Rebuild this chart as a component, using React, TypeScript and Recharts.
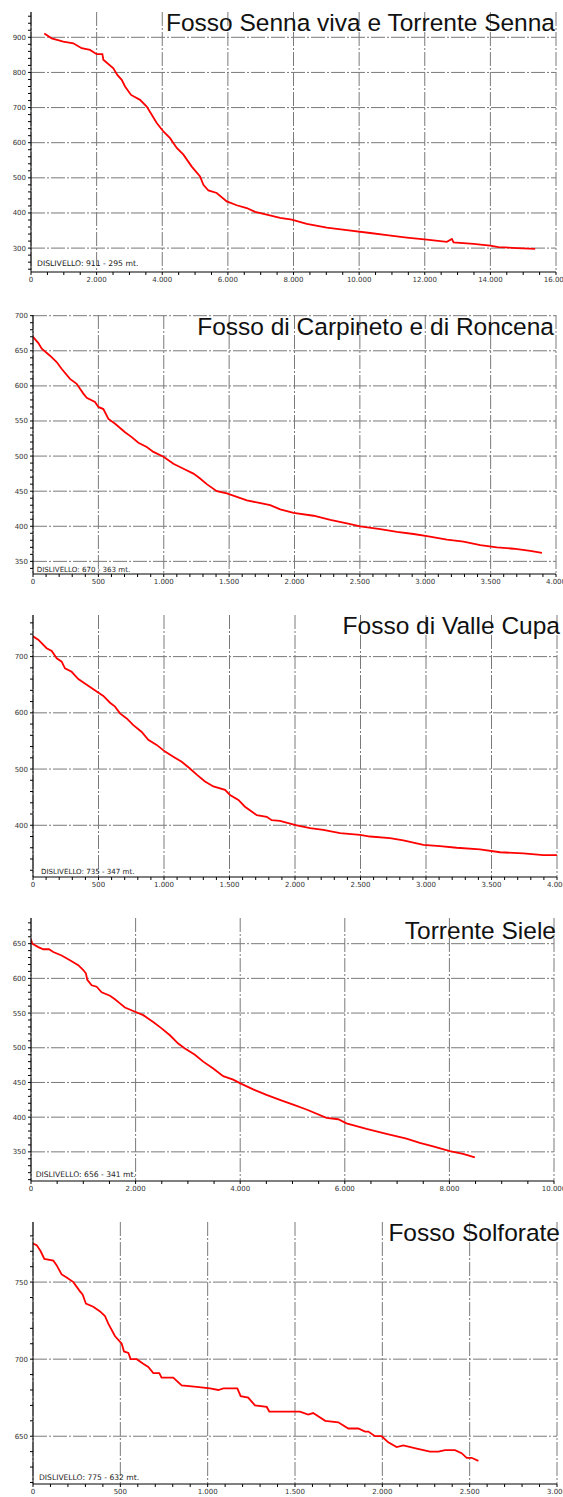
import React from 'react';
import { LineChart, Line, XAxis, YAxis, CartesianGrid } from 'recharts';

// Fosso Senna viva e Torrente Senna
const sennaDist = [405, 630, 985, 1290, 1545, 1800, 2000, 2175, 2205, 2510, 2630, 2765, 2866, 3049, 3323, 3527, 3832, 4035, 4238, 4442, 4645, 4899, 5152, 5254, 5406, 5660, 5966, 6270, 6575, 6829, 7185, 7591, 7948, 8405, 9015, 9625, 10335, 10845, 11455, 12064, 12674, 12827, 12877, 13487, 13994, 14248, 14808, 15366];
const sennaElev = [911, 897, 888, 883, 869, 864, 852, 852, 836, 812, 793, 779, 760, 736, 722, 703, 656, 632, 613, 585, 566, 532, 504, 480, 464, 457, 433, 422, 414, 403, 395, 386, 381, 369, 358, 351, 343, 337, 330, 324, 318, 326, 316, 312, 307, 303, 300, 298];

// Fosso di Carpineto e di Roncena
const carpDist = [0, 41, 67, 130, 181, 220, 283, 334, 385, 411, 474, 500, 538, 577, 628, 704, 755, 806, 870, 921, 998, 1074, 1151, 1227, 1278, 1329, 1406, 1483, 1559, 1636, 1712, 1814, 1891, 1993, 2146, 2274, 2401, 2503, 2656, 2784, 2911, 3013, 3166, 3293, 3421, 3548, 3676, 3803, 3893];
const carpElev = [670, 661, 653, 643, 634, 624, 610, 603, 589, 583, 577, 570, 567, 553, 546, 534, 527, 519, 513, 506, 499, 489, 482, 475, 468, 460, 450, 447, 442, 437, 434, 430, 424, 419, 415, 409, 404, 400, 396, 392, 389, 386, 381, 378, 373, 370, 368, 365, 362];

// Fosso di Valle Cupa
const cupaDist = [0, 40, 104, 143, 181, 219, 244, 295, 346, 410, 486, 537, 588, 626, 664, 715, 766, 830, 880, 944, 1008, 1071, 1135, 1198, 1250, 1313, 1377, 1466, 1504, 1568, 1618, 1708, 1784, 1822, 1885, 2013, 2115, 2216, 2344, 2496, 2573, 2725, 2827, 2980, 3107, 3234, 3412, 3565, 3743, 3896, 4000];
const cupaElev = [736, 730, 715, 710, 697, 691, 679, 673, 660, 650, 638, 630, 618, 611, 599, 590, 578, 566, 552, 543, 531, 522, 513, 501, 490, 478, 469, 463, 454, 445, 433, 418, 415, 409, 408, 400, 395, 392, 386, 383, 380, 377, 373, 365, 363, 360, 357, 352, 350, 347, 347];

// Torrente Siele
const sieleDist = [0, 25, 140, 235, 344, 426, 586, 745, 904, 1000, 1051, 1076, 1160, 1255, 1351, 1510, 1605, 1701, 1796, 1955, 2146, 2337, 2497, 2656, 2815, 2943, 3134, 3293, 3484, 3675, 3866, 3994, 4248, 4503, 4758, 5013, 5268, 5650, 5873, 6032, 6415, 6797, 7179, 7434, 7689, 8007, 8262, 8486];
const sieleElev = [656, 650, 645, 642, 642, 638, 633, 626, 619, 612, 607, 598, 590, 588, 580, 575, 570, 564, 558, 553, 547, 537, 528, 518, 506, 499, 490, 480, 470, 459, 454, 449, 440, 432, 425, 418, 411, 399, 397, 391, 383, 376, 369, 363, 358, 351, 347, 342];

// Fosso Solforate
const solfDist = [0, 21, 44, 65, 116, 135, 164, 193, 231, 269, 284, 303, 345, 384, 412, 431, 469, 508, 521, 546, 559, 594, 631, 660, 689, 723, 736, 803, 851, 937, 1013, 1061, 1090, 1170, 1189, 1232, 1271, 1338, 1353, 1414, 1528, 1576, 1604, 1673, 1748, 1805, 1862, 1901, 1920, 1958, 1996, 2034, 2082, 2120, 2197, 2273, 2321, 2359, 2416, 2454, 2483, 2511, 2550];
const solfElev = [775, 774, 770, 765, 764, 761, 755, 753, 750, 744, 742, 736, 734, 731, 728, 723, 715, 710, 705, 704, 700, 700, 697, 695, 691, 691, 688, 688, 683, 682, 681, 680, 681, 681, 676, 675, 670, 669, 666, 666, 666, 664, 665, 660, 659, 655, 655, 653, 653, 650, 650, 646, 643, 644, 642, 640, 640, 641, 641, 639, 636, 636, 634];

// tick labels
const sennaXMajor = [0, 2000, 4000, 6000, 8000, 10000, 12000, 14000, 16000];
const sennaYMajor = [300, 400, 500, 600, 700, 800, 900];
const carpXMajor = [0, 500, 1000, 1500, 2000, 2500, 3000, 3500, 4000];
const carpYMajor = [350, 400, 450, 500, 550, 600, 650, 700];
const cupaXMajor = [0, 500, 1000, 1500, 2000, 2500, 3000, 3500, 4000];
const cupaYMajor = [400, 500, 600, 700];
const sieleXMajor = [0, 2000, 4000, 6000, 8000, 10000];
const sieleYMajor = [350, 400, 450, 500, 550, 600, 650];
const solfXMajor = [0, 500, 1000, 1500, 2000, 2500, 3000];
const solfYMajor = [650, 700, 750];

const titles = ['Fosso Senna viva e Torrente Senna', 'Fosso di Carpineto e di Roncena', 'Fosso di Valle Cupa', 'Torrente Siele', 'Fosso Solforate'];
const dislivelli = ['DISLIVELLO: 911 -  295 mt.', 'DISLIVELLO: 670 - 363 mt.', 'DISLIVELLO: 735 - 347 mt.', 'DISLIVELLO: 656 - 341 mt.', 'DISLIVELLO: 775 - 632 mt.'];

const range = (a: number, b: number, step: number) => {
  const out: number[] = [];
  for (let v = a; v <= b + 1e-9; v += step) out.push(v);
  return out;
};

const fmtThousands = (v: number) => String(v).replace(/\B(?=(\d{3})+(?!\d))/g, '.');

const TICK_STYLE = { fontSize: 7, fill: '#333', fontFamily: 'DejaVu Sans' };
const GRID = '#7a7a7a';

interface PanelProps {
  top: number;
  height: number;
  dist: number[];
  elev: number[];
  xMax: number;
  xMajor: number[];
  xMinorStep: number;
  yDomain: [number, number];
  yMajor: number[];
  yMinorStep: number;
  yMinorStart: number;
  yWidth: number;
  xHeight: number;
  margin: { top: number; right: number; bottom: number; left: number };
}

function Panel(p: PanelProps) {
  const data = p.dist.map((d, i) => ({ d, e: p.elev[i] }));
  const xTicks = range(0, p.xMax, p.xMinorStep);
  const yTicks = range(p.yMinorStart, p.yDomain[1], p.yMinorStep);
  return (
    <div style={{ position: 'absolute', left: 0, top: p.top }}>
      <LineChart width={563} height={p.height} data={data} margin={p.margin}>
        <CartesianGrid stroke={GRID} strokeDasharray="14 2 2 2" horizontalValues={p.yMajor} verticalValues={p.xMajor} />
        <XAxis
          type="number"
          dataKey="d"
          domain={[0, p.xMax]}
          ticks={xTicks}
          interval={0}
          allowDataOverflow
          height={p.xHeight}
          tickSize={3}
          tickMargin={2}
          stroke="#000"
          tick={TICK_STYLE}
          tickFormatter={(v: number) => (p.xMajor.includes(v) ? fmtThousands(v) : '')}
        />
        <YAxis
          type="number"
          domain={p.yDomain}
          ticks={yTicks}
          interval={0}
          allowDataOverflow
          width={p.yWidth}
          tickSize={3}
          tickMargin={2}
          stroke="#000"
          tick={TICK_STYLE}
          tickFormatter={(v: number) => (p.yMajor.includes(v) ? String(v) : '')}
        />
        <Line dataKey="e" type="linear" stroke="#ff0000" strokeWidth={1.8} dot={false} isAnimationActive={false} />
      </LineChart>
    </div>
  );
}

export default function App() {
  return (
    <div style={{ position: 'absolute', left: 0, top: 0, width: 563, height: 1497, background: '#fff', overflow: 'hidden' }}>
      <Panel top={0} height={300} dist={sennaDist} elev={sennaElev} xMax={16000} xMajor={sennaXMajor} xMinorStep={500}
        yDomain={[232, 972]} yMajor={sennaYMajor} yMinorStep={20} yMinorStart={240} yWidth={31} xHeight={20}
        margin={{ top: 12, right: 7, bottom: 8, left: 0 }} />
      <Panel top={300} height={300} dist={carpDist} elev={carpElev} xMax={4000} xMajor={carpXMajor} xMinorStep={100}
        yDomain={[332, 701]} yMajor={carpYMajor} yMinorStep={10} yMinorStart={340} yWidth={33} xHeight={20}
        margin={{ top: 15, right: 7, bottom: 6, left: 0 }} />
      <Panel top={600} height={300} dist={cupaDist} elev={cupaElev} xMax={4000} xMajor={cupaXMajor} xMinorStep={100}
        yDomain={[308, 774]} yMajor={cupaYMajor} yMinorStep={20} yMinorStart={320} yWidth={33} xHeight={20}
        margin={{ top: 15, right: 6, bottom: 3, left: 0 }} />
      <Panel top={900} height={300} dist={sieleDist} elev={sieleElev} xMax={10000} xMajor={sieleXMajor} xMinorStep={500}
        yDomain={[308, 687]} yMajor={sieleYMajor} yMinorStep={10} yMinorStart={310} yWidth={31} xHeight={19}
        margin={{ top: 18, right: 9, bottom: 0, left: 0 }} />
      <Panel top={1200} height={297} dist={solfDist} elev={solfElev} xMax={3000} xMajor={solfXMajor} xMinorStep={100}
        yDomain={[619, 789]} yMajor={solfYMajor} yMinorStep={10} yMinorStart={620} yWidth={33} xHeight={13}
        margin={{ top: 22, right: 6, bottom: 0, left: 0 }} />
      <svg width={563} height={1497} style={{ position: 'absolute', left: 0, top: 0, pointerEvents: 'none' }}>
        <g fontFamily="'Liberation Sans', Arial, sans-serif" fontSize={24.5} fill="#111" textAnchor="end">
          <text x={555} y={30.7}>{titles[0]}</text>
          <text x={554} y={335}>{titles[1]}</text>
          <text x={560} y={634}>{titles[2]}</text>
          <text x={556} y={939.3}>{titles[3]}</text>
          <text x={560} y={1240.7}>{titles[4]}</text>
        </g>
        <g fontFamily="'DejaVu Sans', sans-serif" fill="#222" style={{ whiteSpace: 'pre' }}>
          <text x={37} y={266} fontSize={7.7}>{dislivelli[0]}</text>
          <text x={36.7} y={572} fontSize={7.1}>{dislivelli[1]}</text>
          <text x={41} y={873.5} fontSize={7.1}>{dislivelli[2]}</text>
          <text x={35.7} y={1176.5} fontSize={7.6}>{dislivelli[3]}</text>
          <text x={39} y={1479.5} fontSize={7.6}>{dislivelli[4]}</text>
        </g>
      </svg>
    </div>
  );
}
